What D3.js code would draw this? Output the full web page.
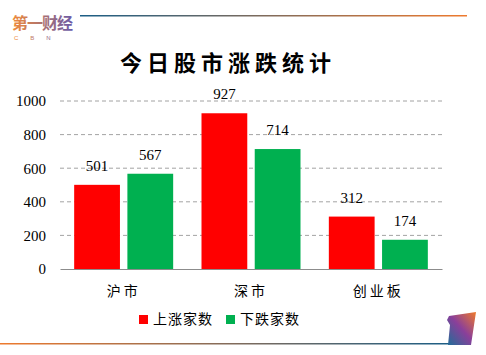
<!DOCTYPE html>
<html><head><meta charset="utf-8">
<script src="https://cdn.jsdelivr.net/npm/d3@7"></script>
<style>body{margin:0;background:#fff}svg{display:block}</style>
</head><body>
<script>
const categories = ["沪市", "深市", "创业板"];
const seriesNames = ["上涨家数", "下跌家数"];
const upValues = [501, 927, 312];
const downValues = [567, 714, 174];
const yTicks = [0, 200, 400, 600, 800, 1000];
const colors = ["#ff0000", "#00b050"];
const title = "今日股市涨跌统计";

const W = 486, H = 355;
const svg = d3.select("body").append("svg").attr("width", W).attr("height", H);
const defs = svg.append("defs");
const g1 = defs.append("linearGradient").attr("id", "topLine");
g1.append("stop").attr("offset", "0%").attr("stop-color", "#1b5e86");
g1.append("stop").attr("offset", "100%").attr("stop-color", "#ee7a2e");
const g2 = defs.append("linearGradient").attr("id", "botLine");
g2.append("stop").attr("offset", "0%").attr("stop-color", "#ee7a2e");
g2.append("stop").attr("offset", "100%").attr("stop-color", "#1b5e86");
const g3 = defs.append("linearGradient").attr("id", "logoG").attr("x1", "0").attr("x2", "1");
g3.append("stop").attr("offset", "0%").attr("stop-color", "#f08a3a");
g3.append("stop").attr("offset", "100%").attr("stop-color", "#6a5aa8");
const g4 = defs.append("linearGradient").attr("id", "deco").attr("x1", "1").attr("y1", "0").attr("x2", "0").attr("y2", "1");
g4.append("stop").attr("offset", "0%").attr("stop-color", "#f07a2a");
g4.append("stop").attr("offset", "50%").attr("stop-color", "#8a3f9a");
g4.append("stop").attr("offset", "100%").attr("stop-color", "#1e6e98");

// decorations
svg.append("rect").attr("x", 80).attr("y", 15).attr("width", 387).attr("height", 1.5).attr("fill", "url(#topLine)");
svg.append("rect").attr("x", 0).attr("y", 343).attr("width", 452).attr("height", 1.5).attr("fill", "url(#botLine)");
svg.append("path").attr("d", "M449,316 L476,312 L471,345 L448,345 L450,325 L447,320 Z").attr("fill", "url(#deco)");
svg.append("text").attr("x", 12).attr("y", 29).attr("font-family", "Noto Sans CJK SC").attr("font-size", 16)
  .attr("font-weight", 700).attr("fill", "url(#logoG)").attr("letter-spacing", -1).text("第一财经");
svg.append("text").attr("x", 14).attr("y", 40).attr("font-family", "Liberation Sans").attr("font-size", 6)
  .attr("fill", "url(#logoG)").attr("letter-spacing", 12).text("CBN");

// title
svg.append("text").attr("x", 228).attr("y", 71).attr("text-anchor", "middle")
  .attr("font-family", "Noto Sans CJK SC").attr("font-weight", 700).attr("font-size", 22)
  .attr("letter-spacing", 5).attr("fill", "#000").text(title);

const x0 = d3.scaleBand().domain(categories).range([60, 442]).paddingInner(0).paddingOuter(0);
const x1 = d3.scaleBand().domain(seriesNames).range([0, 99]).paddingInner(0.14);
const y = d3.scaleLinear().domain([0, 1000]).range([269, 101]);

// gridlines
svg.append("g").selectAll("line").data(yTicks.filter(d => d > 0)).join("line")
  .attr("x1", 60).attr("x2", 442).attr("y1", d => y(d)).attr("y2", d => y(d))
  .attr("stroke", "#8c8c8c").attr("stroke-width", 0.8).attr("stroke-dasharray", "4,3");

// y axis labels
const yAxis = d3.axisLeft(y).tickValues(yTicks).tickFormat(d3.format("d")).tickSize(0).tickPadding(14);
const ya = svg.append("g").attr("transform", "translate(60,0)").call(yAxis);
ya.select(".domain").remove();
ya.selectAll("text").attr("font-family", "Liberation Serif").attr("font-size", 15).attr("fill", "#000");

const data = categories.map((c, i) => ({cat: c, vals: [upValues[i], downValues[i]]}));
const groups = svg.append("g").selectAll("g").data(data).join("g")
  .attr("transform", d => `translate(${x0(d.cat) + (x0.bandwidth() - 99) / 2},0)`);
groups.selectAll("rect").data(d => d.vals.map((v, k) => ({k, v}))).join("rect")
  .attr("x", d => x1(seriesNames[d.k])).attr("width", x1.bandwidth())
  .attr("y", d => y(d.v)).attr("height", d => y(0) - y(d.v)).attr("fill", d => colors[d.k]);
groups.selectAll("text").data(d => d.vals.map((v, k) => ({k, v}))).join("text")
  .attr("x", d => x1(seriesNames[d.k]) + x1.bandwidth() / 2).attr("y", d => y(d.v) - 14)
  .attr("text-anchor", "middle").attr("font-family", "Liberation Serif").attr("font-size", 15)
  .attr("fill", "#000").text(d => d.v);

// x axis
const xAxis = d3.axisBottom(x0).tickSize(0).tickPadding(17);
const xa = svg.append("g").attr("transform", "translate(0,269)").call(xAxis);
xa.select(".domain").attr("stroke", "#8c8c8c").attr("stroke-width", 1);
xa.selectAll("text").attr("font-family", "Noto Sans CJK SC").attr("font-size", 14).attr("fill", "#000")
  .attr("letter-spacing", 3);

// legend
const legX = [139, 226];
const leg = svg.append("g").selectAll("g").data(seriesNames).join("g")
  .attr("transform", (d, i) => `translate(${legX[i]},315)`);
leg.append("rect").attr("width", 9).attr("height", 9).attr("fill", (d, i) => colors[i]);
leg.append("text").attr("x", 14).attr("y", 9).attr("font-family", "Noto Sans CJK SC").attr("font-size", 14)
  .attr("letter-spacing", 1).attr("fill", "#000").text(d => d);
</script>
</body></html>
